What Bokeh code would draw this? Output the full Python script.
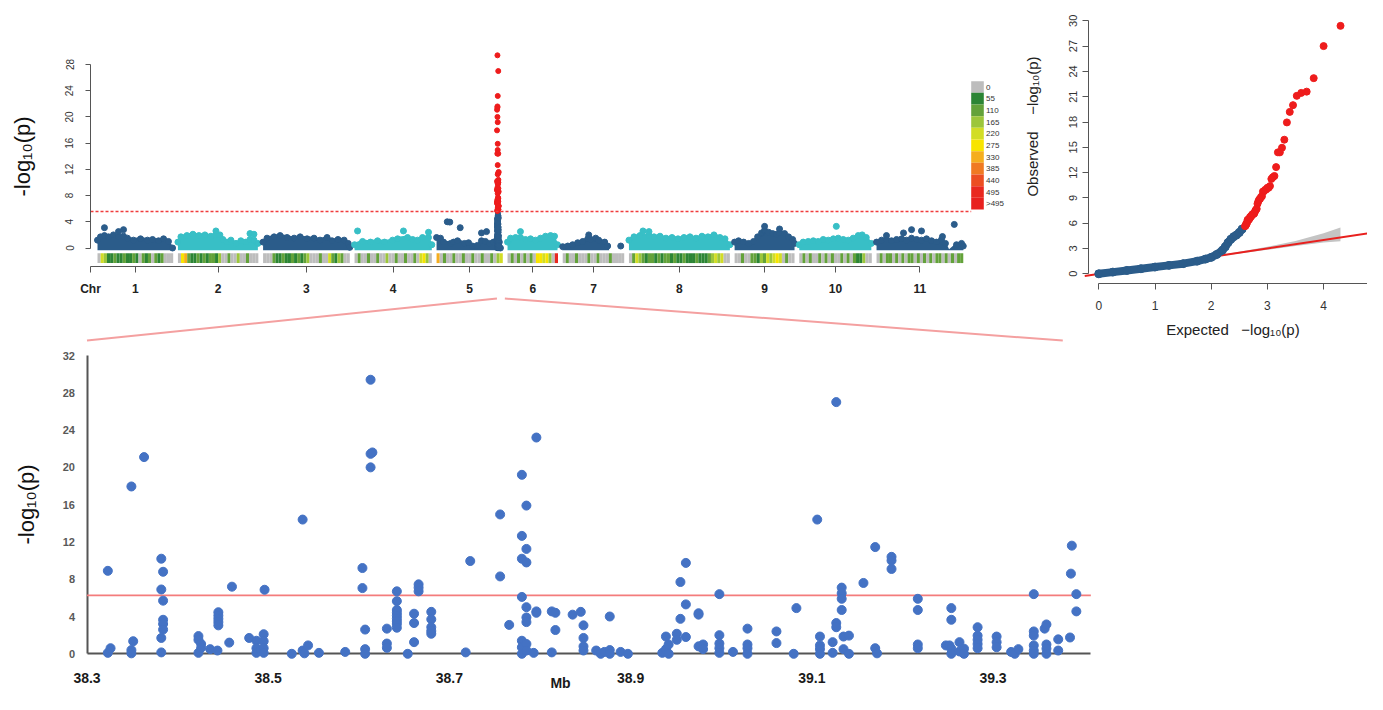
import math
from bokeh.plotting import figure
from bokeh.models import (Range1d, LinearAxis, FixedTicker, Label,
                          CustomJSTickFormatter)
from bokeh.core.properties import value
from bokeh.embed import file_html
from bokeh.resources import INLINE

FONT = "Liberation Sans"

# ------------------------------------------------------------------ data
chr_labels = ["1", "2", "3", "4", "5", "6", "7", "8", "9", "10", "11"]
chr_len_mb = [48, 51, 55, 49, 42, 32, 39, 64, 38, 46, 55]
chr_gap_mb = 3

# upper envelope of the dense SNP cloud of each chromosome (Mb, -log10 p)
env_pos = [
    [0, 1.9, 4.4, 7.0, 10.1, 13.3, 16.5, 19.0, 22.8, 27.3, 31.7, 34.9, 38.7, 41.9, 45.0, 47.6],
    [0, 1.9, 5.7, 9.5, 13.3, 17.1, 20.9, 24.1, 26.6, 28.5, 31.1, 33.6, 36.8, 39.9, 43.1, 45.7, 48.2, 50.7],
    [0, 2.5, 7.0, 10.8, 15.2, 19.7, 23.5, 27.9, 32.3, 36.1, 40.6, 43.7, 47.5, 51.4, 54.0, 55.0],
    [0, 5.1, 10.1, 14.6, 19.0, 24.1, 27.3, 33.6, 36.8, 39.9, 43.1, 46.9, 49.0],
    [0, 2.5, 4.4, 8.9, 10.8, 13.3, 17.8, 20.3, 22.8, 25.9, 28.5, 31.0, 33.6, 36.1, 38.0, 39.8, 40.5],
    [0, 1.9, 5.1, 8.2, 11.4, 14.6, 17.8, 20.9, 24.1, 27.3, 29.8, 31.7],
    [0, 3.2, 6.3, 9.5, 12.7, 15.9, 17.8, 20.9, 22.8, 26.6, 28.5, 29.5],
    [0, 3.2, 7.0, 12.7, 15.9, 19.7, 23.5, 27.3, 31.1, 34.9, 38.7, 42.5, 46.3, 50.1, 53.9, 57.7, 60.9, 64.0],
    [0, 2.5, 5.7, 8.9, 12.0, 14.6, 17.1, 19.0, 21.6, 24.1, 26.6, 28.5, 31.7, 34.2, 36.8, 38.0],
    [0, 2.5, 5.7, 8.9, 12.0, 15.2, 18.4, 21.6, 24.7, 27.9, 31.1, 34.2, 37.4, 39.9, 42.5, 45.7],
    [0, 3.2, 6.3, 9.5, 12.7, 15.9, 19.0, 22.2, 25.4, 28.5, 31.7, 34.9, 38.0, 41.2, 43.7, 46.0, 50.7, 53.9, 55.0],
]
env_val = [
    [1.5, 2.0, 2.2, 2.0, 2.3, 2.0, 2.1, 1.8, 1.5, 1.7, 1.5, 1.6, 1.4, 1.7, 1.3, 0.3],
    [1.2, 2.0, 2.2, 2.4, 2.2, 2.3, 2.1, 2.3, 2.3, 1.6, 1.2, 1.5, 1.0, 1.4, 1.2, 1.6, 1.5, 1.0],
    [1.2, 1.8, 2.0, 2.2, 1.9, 1.8, 2.0, 1.7, 1.8, 1.5, 1.9, 1.4, 1.6, 1.5, 1.0, 0.4],
    [0.8, 1.3, 1.2, 1.4, 1.2, 1.5, 1.7, 1.9, 1.6, 1.5, 1.9, 1.9, 0.8],
    [1.9, 1.8, 1.2, 1.0, 1.2, 1.4, 1.0, 1.1, 0.6, 0.7, 1.4, 1.3, 1.0, 1.2, 1.4, 1.2, 0.3],
    [1.2, 1.8, 1.9, 1.9, 1.6, 1.7, 1.5, 1.8, 2.1, 2.2, 2.1, 0.8],
    [0.5, 0.6, 0.8, 1.1, 1.3, 1.7, 1.6, 1.8, 1.5, 1.2, 0.6, -0.3],
    [1.5, 2.0, 2.2, 2.2, 2.0, 2.1, 1.8, 1.9, 1.7, 1.9, 2.0, 1.8, 2.1, 2.0, 2.3, 1.9, 1.7, 0.8],
    [1.2, 1.4, 1.2, 1.0, 1.3, 2.0, 2.6, 3.0, 2.7, 2.5, 2.4, 2.6, 2.5, 2.0, 1.6, 1.0],
    [0.8, 1.2, 1.3, 1.4, 1.3, 1.6, 1.5, 1.7, 1.8, 1.6, 1.5, 1.8, 2.2, 2.3, 1.9, 1.0],
    [1.2, 1.5, 1.6, 1.4, 1.6, 1.7, 1.5, 1.8, 1.6, 1.5, 1.7, 1.4, 1.2, 1.6, 1.0, -0.2, 0.8, 1.0, 0.6],
]

# isolated SNPs standing above the clouds
out_chr = [1, 1, 1, 2, 2, 2, 4, 4, 4, 5, 5, 5, 5, 5, 6, 7, 7, 8, 8, 9, 9, 10, 11, 11, 11, 11, 11, 11]
out_pos = [4.4, 13.3, 16.5, 24.1, 45.7, 48.2, 1.9, 31.0, 46.9, 6.8, 8.4, 15.0, 28.5, 31.7, 8.2,
           16.5, 36.8, 8.9, 12.7, 19.0, 28.5, 23.5, 6.3, 17.1, 22.2, 28.5, 41.8, 49.3]
out_val = [3.1, 2.5, 2.8, 2.6, 2.2, 2.1, 2.6, 2.6, 2.4, 4.0, 3.95, 3.1, 2.3, 2.5, 2.5,
           2.0, 0.3, 2.6, 2.5, 3.3, 2.9, 3.3, 1.9, 2.3, 2.8, 2.6, 1.75, 3.6]

# SNP density class (0 = "0" ... 10 = ">495") per bin along each chromosome
density_bins = [
    [0, 4, 3, 1, 1, 2, 1, 1, 2, 1, 1, 2, 1, 0, 2, 1, 2, 0, 2, 1, 2, 0, 0, 0],
    [0, 5, 6, 2, 1, 1, 2, 1, 2, 1, 2, 2, 1, 3, 0, 0, 2, 0, 0, 3, 0, 0, 2, 0, 0, 0],
    [0, 0, 0, 2, 1, 1, 2, 1, 1, 2, 1, 2, 1, 2, 3, 0, 0, 0, 2, 0, 0, 4, 2, 1, 3, 2, 0, 0],
    [0, 2, 0, 0, 2, 0, 0, 2, 0, 0, 3, 0, 0, 2, 0, 0, 2, 0, 0, 2, 0, 4, 5, 3, 0],
    [6, 0, 2, 0, 0, 2, 0, 0, 2, 0, 0, 2, 0, 0, 2, 0, 0, 2, 0, 3, 4],
    [0, 2, 0, 2, 0, 2, 0, 2, 0, 5, 5, 4, 5, 3, 0, 9],
    [0, 2, 0, 0, 2, 0, 0, 0, 2, 0, 0, 2, 0, 0, 0, 2, 0, 0, 0, 0],
    [0, 2, 4, 3, 2, 1, 2, 2, 1, 2, 1, 2, 2, 1, 2, 1, 1, 2, 1, 1, 1, 2, 1, 1, 1, 2, 3, 4, 3, 4, 0, 0],
    [0, 0, 2, 0, 0, 2, 2, 1, 3, 2, 4, 3, 4, 5, 4, 0, 2, 0, 0],
    [0, 2, 0, 2, 0, 0, 2, 0, 2, 0, 2, 0, 0, 2, 0, 2, 0, 2, 1, 1, 3, 0, 0],
    [0, 2, 0, 2, 2, 0, 2, 0, 2, 0, 2, 2, 0, 2, 0, 2, 0, 2, 0, 2, 2, 0, 2, 0, 2, 0, 2, 2],
]
legend_labels = ["0", "55", "110", "165", "220", "275", "330", "385", "440", "495", ">495"]
legend_colors = ["#BDBDBD", "#2C8535", "#63A23A", "#9CC63B", "#D2DD26", "#F8E400",
                 "#F5AE1E", "#F07A22", "#EC4E22", "#E9281F", "#E8201E"]

manhattan_threshold = 5.57
zoom_threshold = 6.26
zoom_chr = 5

# chromosome 5, 38.3-39.4 Mb: SNP positions (Mb) and -log10(p)
zoom_mb = [
    38.323, 38.323, 38.326, 38.349, 38.349, 38.349, 38.351, 38.363,
    38.382, 38.382, 38.382, 38.382, 38.384, 38.384, 38.384, 38.384, 38.384,
    38.423, 38.423, 38.423, 38.426, 38.426, 38.436, 38.444,
    38.445, 38.445, 38.445, 38.445, 38.445, 38.457, 38.460, 38.479,
    38.487, 38.487, 38.487, 38.492, 38.495, 38.495, 38.495, 38.495, 38.496,
    38.526, 38.538, 38.538, 38.540, 38.544, 38.556, 38.585,
    38.604, 38.604, 38.607, 38.607, 38.607, 38.613, 38.613, 38.613, 38.615,
    38.631, 38.631, 38.631,
    38.642, 38.642, 38.642, 38.642, 38.642, 38.642, 38.642, 38.642, 38.642,
    38.654, 38.661, 38.661, 38.661, 38.666, 38.666, 38.666,
    38.680, 38.680, 38.680, 38.680, 38.680, 38.718, 38.723, 38.756, 38.756, 38.766,
    38.780, 38.780, 38.780, 38.780, 38.780, 38.780, 38.780,
    38.785, 38.785, 38.785, 38.785, 38.785, 38.785, 38.785, 38.785,
    38.793, 38.796, 38.796, 38.796, 38.813, 38.813, 38.817, 38.817, 38.836,
    38.845, 38.848, 38.848, 38.848, 38.848, 38.862, 38.867, 38.871,
    38.877, 38.877, 38.877, 38.889, 38.897, 38.935, 38.939, 38.939, 38.942, 38.942,
    38.951, 38.951, 38.955, 38.955, 38.961, 38.961, 38.961, 38.975, 38.975, 38.975,
    38.980, 38.980, 38.998, 38.998, 38.998, 38.998, 38.998, 39.013,
    39.029, 39.029, 39.029, 39.029, 39.061, 39.061, 39.080, 39.083, 39.106,
    39.109, 39.109, 39.109, 39.109, 39.123, 39.123, 39.127, 39.127, 39.127,
    39.133, 39.133, 39.133, 39.133, 39.135, 39.135, 39.141, 39.141, 39.157,
    39.170, 39.170, 39.172, 39.188, 39.188, 39.188, 39.217, 39.217, 39.217, 39.217,
    39.248, 39.252, 39.254, 39.254, 39.254, 39.254, 39.263, 39.263, 39.268, 39.268,
    39.283, 39.283, 39.283, 39.283, 39.283, 39.304, 39.304, 39.304,
    39.320, 39.324, 39.328, 39.345, 39.345, 39.345, 39.345, 39.345, 39.345,
    39.357, 39.359, 39.359, 39.359, 39.359, 39.372, 39.372, 39.385, 39.387, 39.386,
    39.392, 39.392,
]
zoom_logp = [
    8.9, 0.1, 0.6, 17.95, 0.4, 0.05, 1.35, 21.1,
    10.2, 6.9, 1.7, 0.15, 8.8, 5.7, 3.65, 3.2, 2.6,
    1.9, 1.5, 0.1, 1.05, 0.64, 0.5, 0.35,
    4.46, 4.1, 3.75, 3.4, 3.05, 1.2, 7.2, 1.7,
    1.4, 0.6, 0.1, 0.35, 2.1, 1.35, 0.6, 0.1, 6.87,
    0.0, 14.4, 0.35, 0.05, 0.9, 0.1, 0.2,
    9.2, 7.05, 2.6, 0.5, 0.0, 29.4, 21.45, 20.0, 21.6,
    2.7, 1.1, 0.64,
    6.7, 5.65, 4.7, 4.4, 4.1, 3.8, 3.5, 3.2, 2.8,
    0.0, 4.3, 3.3, 1.25, 7.45, 7.1, 6.7,
    4.5, 3.7, 2.85, 2.45, 2.15, 0.15, 9.95, 14.95, 8.3, 3.1,
    19.2, 12.65, 10.2, 6.1, 1.4, 0.7, 0.0,
    15.9, 11.25, 9.8, 5.0, 3.9, 3.4, 1.05, 0.35,
    0.1, 23.2, 4.55, 4.4, 4.55, 0.15, 4.4, 2.55, 4.2,
    4.5, 3.05, 1.7, 0.8, 0.35, 0.35, 0.0, 0.2,
    4.0, 0.4, 0.0, 0.2, 0.0, 0.1, 1.85, 0.5, 1.0, 0.0,
    2.15, 1.5, 7.7, 3.75, 9.75, 5.3, 1.8, 4.35, 4.2, 0.8,
    1.0, 0.5, 6.4, 2.0, 1.1, 0.6, 0.1, 0.2,
    2.7, 1.0, 0.6, 0.0, 2.4, 1.15, 0.0, 4.9, 14.4,
    1.85, 0.9, 0.5, 0.0, 1.25, 0.1, 27.0, 3.3, 2.85,
    7.1, 6.5, 5.9, 4.7, 1.85, 0.5, 1.95, 0.0, 7.6,
    11.45, 0.6, 0.05, 10.4, 10.0, 9.1, 5.9, 4.7, 1.0, 0.6,
    0.9, 0.9, 4.9, 3.65, 0.55, 0.0, 1.25, 0.25, 0.55, 0.0,
    2.85, 1.95, 1.5, 1.05, 0.6, 1.85, 1.25, 0.7,
    0.2, 0.0, 0.5, 6.4, 2.4, 1.95, 0.9, 0.35, 0.0,
    2.7, 3.15, 1.0, 0.55, 0.0, 1.55, 0.35, 1.75, 11.6, 8.6,
    6.4, 4.55,
]
zoom_ticks = [38.3, 38.5, 38.7, 38.9, 39.1, 39.3]
zoom_axis_end = 39.408

# QQ plot: number of markers, body of the curve, 95% band
qq_n = 20000
qq_curve_exp = [0.0, 0.25, 0.5, 0.75, 1.0, 1.25, 1.5, 1.75, 1.9, 2.0, 2.1, 2.2,
                2.25, 2.3, 2.35, 2.4, 2.45, 2.5, 2.55]
qq_curve_obs = [0.0, 0.2, 0.4, 0.6, 0.8, 1.0, 1.2, 1.5, 1.75, 1.95, 2.3, 2.8,
                3.2, 3.7, 4.1, 4.4, 4.6, 4.9, 5.3]
qq_ci_exp = [2.0, 2.5, 3.0, 3.5, 4.0, 4.3]
qq_ci_lo = [1.95, 2.4, 2.85, 3.3, 3.7, 3.85]
qq_ci_hi = [2.05, 2.6, 3.2, 3.9, 4.8, 5.5]

# ------------------------------------------------------------------ layout
W, H, M = 1367, 694, 0
DARK, CYAN, RED = "#2B5C8A", "#38BFC6", "#EE1C1C"


def lin_x(v0, px0, v1, px1):
    s = (v1 - v0) / (px1 - px0)
    start = v0 - (px0 - M) * s
    return Range1d(start=start, end=start + W * s)


def lin_y(v0, py0, v1, py1):
    s = (v1 - v0) / (py0 - py1)
    bottom = v0 - (M + H - py0) * s
    return Range1d(start=bottom, end=bottom + H * s)


def to_px(r, v):
    return M + (v - r.start) / (r.end - r.start) * W


def to_py(r, v):
    return M + (r.end - v) / (r.end - r.start) * H


def from_px(r, px):
    return r.start + (px - M) / W * (r.end - r.start)


def from_py(r, py):
    return r.end - (py - M) / H * (r.end - r.start)


mx = lin_x(0, 97.0, 100, 254.7)
my = lin_y(0, 247.5, 28, 64.0)
bx = lin_x(38.3, 86.5, 39.3, 992.5)
by = lin_y(0, 653.3, 32, 355.0)
qx = lin_x(0, 1098.3, 5, 1379.3)
qy = lin_y(0, 273.3, 30, 20.3)

p = figure(width=W, height=H, x_range=Range1d(M, M + W), y_range=Range1d(M + H, M),
           x_axis_type=None, y_axis_type=None, toolbar_location=None,
           output_backend="svg", min_border=0, outline_line_color=None)
p.extra_x_ranges = {"mx": mx, "bx": bx, "qx": qx}
p.extra_y_ranges = {"my": my, "by": by, "qy": qy}

M_KW = dict(x_range_name="mx", y_range_name="my")
B_KW = dict(x_range_name="bx", y_range_name="by")
Q_KW = dict(x_range_name="qx", y_range_name="qy")

# ------------------------------------------------------------------ Manhattan
offsets = []
acc = 0.0
for L in chr_len_mb:
    offsets.append(acc)
    acc += L + chr_gap_mb
centers = [o + L / 2 for o, L in zip(offsets, chr_len_mb)]
base = -0.35

for i in range(len(chr_labels)):
    col = DARK if i % 2 == 0 else CYAN
    xs = [offsets[i] + v for v in env_pos[i]]
    p.varea(x=xs, y1=[base] * len(xs), y2=env_val[i], fill_color=col, **M_KW)
    keep = [(x, v - 0.3) for x, v in zip(xs, env_val[i]) if v > 0.2]
    p.scatter([k[0] for k in keep], [k[1] for k in keep], size=6, color=col, **M_KW)

p.scatter([offsets[c - 1] + x for c, x in zip(out_chr, out_pos)], out_val, size=6,
          color=[DARK if (c - 1) % 2 == 0 else CYAN for c in out_chr], **M_KW)

zx = [offsets[zoom_chr - 1] + m for m in zoom_mb]
p.scatter([x for x, v in zip(zx, zoom_logp) if v <= manhattan_threshold],
          [v for v in zoom_logp if v <= manhattan_threshold], size=5, color=DARK, **M_KW)
p.scatter([x for x, v in zip(zx, zoom_logp) if v > manhattan_threshold],
          [v for v in zoom_logp if v > manhattan_threshold], size=5, color=RED, **M_KW)

# SNP density strips
lefts, rights, cols = [], [], []
for i, bins in enumerate(density_bins):
    w = chr_len_mb[i] / len(bins)
    for j, c in enumerate(bins):
        lefts.append(offsets[i] + j * w)
        rights.append(offsets[i] + (j + 1) * w)
        cols.append(legend_colors[c])
p.quad(left=lefts, right=rights, top=-0.8, bottom=-2.3, fill_color=cols,
       line_color=None, **M_KW)

# colour key
key_left, key_right = from_px(mx, 970.7), from_px(mx, 983.3)
key_top, key_step = 80.7, (209.0 - 80.7) / len(legend_labels)
k_top = [from_py(my, key_top + k * key_step) for k in range(len(legend_labels))]
k_bot = [from_py(my, key_top + (k + 1) * key_step) for k in range(len(legend_labels))]
p.quad(left=key_left, right=key_right, top=k_top, bottom=k_bot, fill_color=legend_colors,
       line_color=None, **M_KW)
p.text(x=[from_px(mx, 985.5)] * len(legend_labels),
       y=[(a + b) / 2 for a, b in zip(k_top, k_bot)], text=legend_labels,
       text_font=value(FONT), text_font_size="8px", text_color="#333333",
       text_baseline="middle", text_align="left", **M_KW)

# threshold
axis_start = from_px(mx, 90.0)
p.line([axis_start, key_left], [manhattan_threshold] * 2, line_color="#F03C3C",
       line_width=1.6, line_dash="3 2", **M_KW)

may = LinearAxis(fixed_location=axis_start, bounds=(0, 28),
                 ticker=FixedTicker(ticks=list(range(0, 29, 4))),
                 axis_label="-log\u2081\u2080(p)", **M_KW)
max_ = LinearAxis(fixed_location=from_py(my, 266.0), bounds=(axis_start, centers[-1]),
                  ticker=FixedTicker(ticks=[axis_start] + centers),
                  formatter=CustomJSTickFormatter(args=dict(names=["Chr"] + chr_labels),
                                                  code="return names[index];"),
                  **M_KW)
for ax in (may, max_):
    ax.axis_line_color = "#555555"
    ax.major_tick_line_color = "#555555"
    ax.major_tick_in = 0
    ax.minor_tick_in = 0
    ax.minor_tick_out = 0
    ax.major_label_text_font = FONT
may.major_tick_out = 5
may.major_label_orientation = "vertical"
may.major_label_standoff = 12
may.major_label_text_font_size = "10px"
may.major_label_text_color = "#333333"
may.axis_label_text_font = FONT
may.axis_label_text_font_size = "22px"
may.axis_label_text_font_style = "normal"
may.axis_label_text_color = "#111111"
may.axis_label_standoff = 28
max_.major_tick_out = 6
max_.major_label_standoff = 9
max_.major_label_text_font_size = "12px"
max_.major_label_text_font_style = "bold"
max_.major_label_text_color = "#222222"
p.add_layout(may, "left")
p.add_layout(max_, "below")

# ------------------------------------------------------------------ QQ plot
p.varea(x=qq_ci_exp, y1=qq_ci_lo, y2=qq_ci_hi, fill_color="#C4C4C4", **Q_KW)
p.line([-0.25, 5.6], [-0.25, 5.6], line_color="#E8201E", line_width=2, **Q_KW)
p.line(qq_curve_exp, qq_curve_obs, line_color=DARK, line_width=8, line_cap="round", **Q_KW)
p.scatter(qq_curve_exp, qq_curve_obs, size=8, color=DARK, **Q_KW)
red_obs = sorted([v for v in zoom_logp if v > manhattan_threshold], reverse=True)
red_exp = [-math.log10((k + 1) / (qq_n + 1)) for k in range(len(red_obs))]
p.scatter(red_exp, red_obs, size=7, color=RED, **Q_KW)

qyx = LinearAxis(fixed_location=from_px(qx, 1088.3), bounds=(0, 30),
                 ticker=FixedTicker(ticks=list(range(0, 31, 3))), **Q_KW)
qxx = LinearAxis(fixed_location=from_py(qy, 283.3), bounds=(0, 5),
                 ticker=FixedTicker(ticks=list(range(0, 6))),
                 axis_label="Expected\u00a0\u00a0\u00a0\u2212log\u2081\u2080(p)", **Q_KW)
for ax in (qyx, qxx):
    ax.axis_line_color = "#555555"
    ax.major_tick_line_color = "#555555"
    ax.major_tick_in = 0
    ax.minor_tick_in = 0
    ax.minor_tick_out = 0
    ax.major_tick_out = 6
    ax.major_label_text_font = FONT
    ax.major_label_text_color = "#333333"
qyx.major_label_orientation = "vertical"
qyx.major_label_text_font_size = "11px"
qyx.major_label_standoff = 6
qxx.major_label_text_font_size = "12px"
qxx.major_label_standoff = 11
qxx.axis_label_text_font = FONT
qxx.axis_label_text_font_size = "15px"
qxx.axis_label_text_font_style = "normal"
qxx.axis_label_text_color = "#222222"
qxx.axis_label_standoff = 8
p.add_layout(qyx, "left")
p.add_layout(qxx, "below")
p.add_layout(Label(x=from_px(qx, 1031.5), y=from_py(qy, 126.0),
                   text="Observed\u00a0\u00a0\u00a0\u00a0\u2212log\u2081\u2080(p)",
                   angle=math.pi / 2, text_align="center", text_baseline="middle",
                   text_font=FONT, text_font_size="15px", text_color="#222222", **Q_KW))

# ------------------------------------------------------------------ zoomed region
p.line([38.3, zoom_axis_end], [zoom_threshold] * 2, line_color="#F47C7C", line_width=1.8, **B_KW)
p.scatter(zoom_mb, zoom_logp, size=9, color="#4472C4", **B_KW)

bxa = LinearAxis(fixed_location=0, bounds=(38.3, zoom_axis_end),
                 ticker=FixedTicker(ticks=zoom_ticks), **B_KW)
bya = LinearAxis(fixed_location=38.3, bounds=(0, 32),
                 ticker=FixedTicker(ticks=list(range(0, 33, 4))),
                 axis_label="-log\u2081\u2080(p)", **B_KW)
for ax in (bxa, bya):
    ax.axis_line_color = "#555555"
    ax.axis_line_width = 2
    ax.major_tick_in = 0
    ax.major_tick_out = 0
    ax.minor_tick_in = 0
    ax.minor_tick_out = 0
    ax.major_label_text_font = FONT
    ax.major_label_text_font_style = "bold"
    ax.level = "underlay"
bxa.major_label_text_font_size = "14px"
bxa.major_label_text_color = "#1A1A1A"
bxa.major_label_standoff = 19
bya.major_label_text_font_size = "11px"
bya.major_label_text_color = "#595959"
bya.major_label_standoff = 12
bya.axis_label_text_font = FONT
bya.axis_label_text_font_size = "22px"
bya.axis_label_text_font_style = "normal"
bya.axis_label_text_color = "#111111"
bya.axis_label_standoff = 21
p.add_layout(bxa, "below")
p.add_layout(bya, "left")
p.add_layout(Label(x=from_px(bx, 560.0), y=from_py(by, 682.0), text="Mb",
                   text_align="center", text_baseline="middle", text_font=FONT,
                   text_font_size="14px", text_font_style="bold", text_color="#1A1A1A", **B_KW))

# connector lines from the chromosome-5 peak to the zoomed panel
link_top_mb = [38.3, 43.3]
link_top_y = from_py(my, 298.0)
link_bot_mb = [38.3, 39.377]
link_bot_y = from_py(by, 340.0)
p.segment(x0=[to_px(bx, link_bot_mb[0]), to_px(mx, offsets[zoom_chr - 1] + link_top_mb[1])],
          y0=[to_py(by, link_bot_y), to_py(my, link_top_y)],
          x1=[to_px(mx, offsets[zoom_chr - 1] + link_top_mb[0]), to_px(bx, link_bot_mb[1])],
          y1=[to_py(my, link_top_y), to_py(by, link_bot_y)],
          line_color="#F4A0A0", line_width=2)

open("out.html", "w").write(file_html(p, INLINE))
